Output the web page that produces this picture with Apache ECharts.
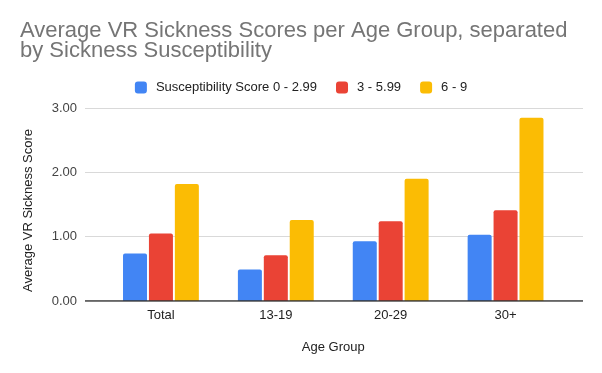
<!DOCTYPE html>
<html>
<head>
<meta charset="utf-8">
<script src="https://cdn.jsdelivr.net/npm/echarts@6/dist/echarts.min.js"></script>
<style>html,body{margin:0;padding:0;background:#fff}#c{width:602px;height:373px}</style>
</head>
<body>
<div id="c"></div>
<script>
var categories = ['Total', '13-19', '20-29', '30+'];
var seriesNames = ['Susceptibility Score 0 - 2.99', '3 - 5.99', '6 - 9'];
var low = [0.74, 0.49, 0.93, 1.03];
var mid = [1.05, 0.71, 1.24, 1.41];
var high = [1.82, 1.26, 1.90, 2.85];
var yTicks = [0, 1, 2, 3];
var colors = ['#4285f4', '#ea4335', '#fbbc04'];

var font = 'Arial, "Liberation Sans", sans-serif';
var chart = echarts.init(document.getElementById('c'), null, {renderer: 'canvas'});
function bar(name, data, color) {
  return {
    name: name, type: 'bar', data: data, xAxisIndex: 1, yAxisIndex: 1,
    barWidth: 24, barGap: '8%',
    itemStyle: {color: color, borderRadius: [2, 2, 0, 0]}
  };
}
chart.setOption({
  animation: false,
  textStyle: {fontFamily: font},
  title: {
    text: 'Average VR Sickness Scores per Age Group, separated\nby Sickness Susceptibility',
    left: 15, top: 16,
    textStyle: {fontFamily: font, fontSize: 22, fontWeight: 'normal', color: '#757575', lineHeight: 20}
  },
  legend: {
    top: 76, left: 'center',
    itemWidth: 12, itemHeight: 12, itemGap: 19,
    icon: 'roundRect',
    textStyle: {fontFamily: font, fontSize: 13, color: '#222', padding: [0, 0, 0, 4]},
    data: seriesNames
  },
  grid: [
    {left: 85, right: 19, top: 108, bottom: 72},
    {left: 103.5, right: 39, top: 108, bottom: 72}
  ],
  xAxis: [
    {type: 'value', gridIndex: 0, min: 0, max: 1, show: false},
    {type: 'category', gridIndex: 1, data: categories,
     axisLine: {show: false}, axisTick: {show: false},
     axisLabel: {fontFamily: font, fontSize: 13, color: '#222', margin: 8},
     name: 'Age Group', nameLocation: 'middle', nameGap: 40,
     nameTextStyle: {fontFamily: font, fontSize: 13, color: '#222'}}
  ],
  yAxis: [
    {type: 'value', gridIndex: 0, min: 0, max: 3, interval: 1,
     axisLine: {show: false}, axisTick: {show: false},
     splitLine: {lineStyle: {color: '#d9d9d9', width: 1}},
     axisLabel: {fontFamily: font, fontSize: 13, color: '#444', margin: 8,
       formatter: function (v) { return v.toFixed(2); }},
     name: 'Average VR Sickness Score', nameLocation: 'middle', nameGap: 50,
     nameTextStyle: {fontFamily: font, fontSize: 13, color: '#222', padding: [0, 12, 0, 0]}},
    {type: 'value', gridIndex: 1, min: 0, max: 3, interval: 1, show: false}
  ],
  series: [
    bar(seriesNames[0], low, colors[0]),
    bar(seriesNames[1], mid, colors[1]),
    bar(seriesNames[2], high, colors[2]),
    {type: 'line', xAxisIndex: 0, yAxisIndex: 0, data: [[0, 0], [1, 0]],
     symbol: 'none', silent: true, lineStyle: {color: '#333', width: 1.5}, z: 5}
  ]
});
</script>
</body>
</html>
